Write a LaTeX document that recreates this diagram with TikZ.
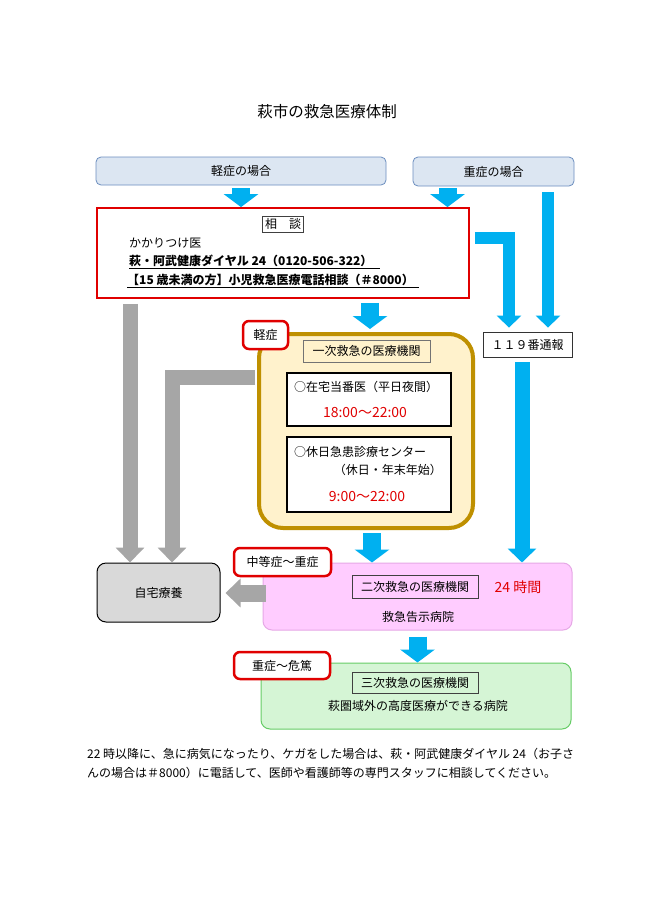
\documentclass[tikz,border=0pt]{standalone}
\usepackage{fontspec}
\setmainfont{Noto Sans CJK JP}
\usetikzlibrary{arrows.meta}

\definecolor{casefill}{HTML}{DCE6F2}
\definecolor{caseline}{HTML}{6C8EBF}
\definecolor{arrowblue}{HTML}{00B0F0}
\definecolor{arrowgrey}{HTML}{A6A6A6}
\definecolor{alertred}{HTML}{E00000}
\definecolor{goldline}{HTML}{BF9000}
\definecolor{goldfill}{HTML}{FFF2CC}
\definecolor{pinkfill}{HTML}{FFCCFF}
\definecolor{pinkline}{HTML}{E6A8E6}
\definecolor{greenfill}{HTML}{D5F5D5}
\definecolor{greenline}{HTML}{66CC66}
\definecolor{homefill}{HTML}{D9D9D9}

\tikzset{
  txt/.style={font=\fontsize{12}{14}\selectfont, inner sep=0pt},
  redtxt/.style={txt, text=alertred, font=\fontsize{14}{16}\selectfont},
  casebox/.style={draw=caseline, fill=casefill, line width=0.8pt, rounded corners=5pt, txt},
  labelbox/.style={draw=black!75, line width=0.6pt, txt},
  tagbox/.style={draw=alertred, fill=white, line width=2.5pt, rounded corners=6pt, txt},
  hourbox/.style={draw=black, fill=white, line width=2.5pt, txt},
  levelbox/.style={rounded corners=9pt, line width=1pt, txt},
  bigblue/.style={draw=arrowblue, line width=18pt, -{Triangle[width=34pt,length=13pt]}},
  thinblue/.style={draw=arrowblue, line width=12.5pt, line join=miter, -{Triangle[width=24pt,length=12pt]}},
  longblue/.style={draw=arrowblue, line width=15pt, -{Triangle[width=28pt,length=14pt]}},
  greyarrow/.style={draw=arrowgrey, line width=15pt, line join=miter, -{Triangle[width=28pt,length=15pt]}}
}

\begin{document}
\begin{tikzpicture}[x=1pt, y=-1pt]
  \fill[white] (0,0) rectangle (650,919);

  \node[txt, font=\fontsize{15.5}{18}\selectfont] (title) at (327,112) {萩市の救急医療体制};

  \node[casebox, minimum width=290pt, minimum height=28pt] (mild) at (241,171) {軽症の場合};
  \node[casebox, minimum width=161pt, minimum height=29pt] (severe) at (493.5,171.5) {重症の場合};

  \node[draw=alertred, line width=1.8pt, fill=white, minimum width=372pt, minimum height=90pt] (soudan) at (283,253) {};
  \node[labelbox, inner sep=2.5pt] (soudanlbl) at (283,224) {相　談};
  \node[txt, anchor=west] (kakaritsuke) at (129,243) {かかりつけ医};
  \node[txt, anchor=west] (dial) at (129,262) {\bfseries\underline{萩・阿武健康ダイヤル 24（0120-506-322）\hspace{8pt}}};
  \node[txt, anchor=west] (kodomo) at (127,281) {\bfseries\underline{【15 歳未満の方】小児救急医療電話相談（＃8000）\hspace{5pt}}};

  \node[draw=black!80, line width=0.8pt, fill=white, minimum width=89pt, minimum height=25pt, txt] (tuuhou) at (527.5,344.5) {１１９番通報};

  \node[draw=goldline, fill=goldfill, line width=4pt, rounded corners=24pt, minimum width=214pt, minimum height=194pt] (ichiji) at (366,431) {};
  \node[labelbox, draw=black!55, fill=goldfill, minimum width=127pt, minimum height=22pt] (ichijilbl) at (366.5,351) {一次救急の医療機関};
  \node[hourbox, minimum width=164pt, minimum height=53pt] (toban) at (369,399.5) {};
  \node[txt, anchor=west] (tobantxt) at (294,387) {○在宅当番医（平日夜間）};
  \node[redtxt] (tobantime) at (365,413) {18:00～22:00};
  \node[hourbox, minimum width=164pt, minimum height=75pt] (kyujitsu) at (369,474.5) {};
  \node[txt, anchor=west] (kyujitsutxt) at (294,452) {○休日急患診療センター};
  \node[txt, anchor=east] (kyujitsusub) at (442,470) {（休日・年末年始）};
  \node[redtxt] (kyujitsutime) at (367,497) {9:00～22:00};
  \node[tagbox, minimum width=45pt, minimum height=28pt] (mildtag) at (265.5,335) {軽症};

  \node[levelbox, draw=black, fill=homefill, minimum width=123pt, minimum height=59pt] (jitaku) at (158.5,592.5) {自宅療養};

  \node[levelbox, draw=pinkline, fill=pinkfill, minimum width=309pt, minimum height=67pt] (niji) at (417.5,596.5) {};
  \node[labelbox, minimum width=126pt, minimum height=23pt] (nijilbl) at (415,586.5) {二次救急の医療機関};
  \node[redtxt] (nijihours) at (518,587) {24 時間};
  \node[txt] (nijitxt) at (418,617) {救急告示病院};
  \node[tagbox, minimum width=97pt, minimum height=28pt] (middletag) at (282.5,562) {中等症～重症};

  \node[levelbox, draw=greenline, fill=greenfill, minimum width=310pt, minimum height=66pt] (sanji) at (416,696) {};
  \node[labelbox, minimum width=126pt, minimum height=21pt] (sanjilbl) at (415,682.5) {三次救急の医療機関};
  \node[txt] (sanjitxt) at (418,706) {萩圏域外の高度医療ができる病院};
  \node[tagbox, minimum width=96pt, minimum height=27pt] (severetag) at (282,665.5) {重症～危篤};

  \node[txt, anchor=west] (note1) at (87,754) {22 時以降に、急に病気になったり、ケガをした場合は、萩・阿武健康ダイヤル 24（お子さ};
  \node[txt, anchor=west] (note2) at (87,773) {んの場合は＃8000）に電話して、医師や看護師等の専門スタッフに相談してください。};

  % blue arrows
  \draw[bigblue, shorten <=3pt] (mild.south) -- (mild.south |- soudan.north);
  \draw[bigblue, shorten <=2pt] ([xshift=-46pt]severe.south) -- ([xshift=-46pt]severe.south |- soudan.north);
  \draw[bigblue, shorten <=4pt, shorten >=3pt] ([xshift=4pt]ichiji.north |- soudan.south) -- ([xshift=4pt]ichiji.north);
  \draw[bigblue, shorten <=3pt] ([xshift=6pt]ichiji.south) -- ([xshift=6pt]ichiji.south |- niji.north);
  \draw[bigblue, shorten <=6pt] (niji.south) -- (niji.south |- sanji.north);
  \draw[thinblue, shorten <=5pt, shorten >=4pt] ([yshift=15pt]soudan.east) -| ([xshift=-18.5pt]tuuhou.north);
  \draw[thinblue, shorten <=6pt, shorten >=4pt] ([xshift=20.5pt]tuuhou.north |- severe.south) -- ([xshift=20.5pt]tuuhou.north);
  \draw[longblue, shorten <=5pt] ([xshift=-5.5pt]tuuhou.south) -- ([xshift=-5.5pt]tuuhou.south |- niji.north);

  % grey arrows
  \draw[greyarrow, shorten <=5pt] ([xshift=-28.5pt]jitaku.north |- soudan.south) -- ([xshift=-28.5pt]jitaku.north);
  \draw[greyarrow, shorten <=2pt] ([yshift=53.5pt]ichiji.west) -| ([xshift=13.5pt]jitaku.north);
  \draw[greyarrow, line width=17pt, shorten <=-3pt, shorten >=5pt] ([yshift=3.5pt]niji.west) -- ([yshift=3.5pt]niji.west -| jitaku.east);
\end{tikzpicture}
\end{document}
